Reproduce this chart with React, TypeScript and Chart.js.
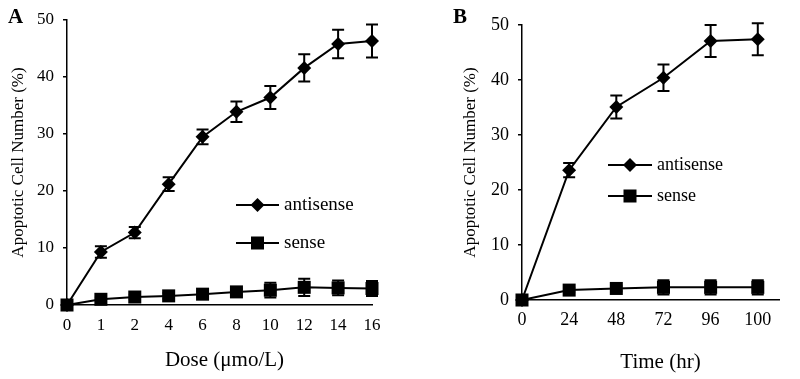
import React, { useEffect, useRef } from 'react';
import { Chart, registerables } from 'chart.js';

Chart.register(...registerables);

// ---------- Data ----------
const doseLabels = ['0', '1', '2', '4', '6', '8', '10', '12', '14', '16'];
const doseAntisense = [0, 9.3, 12.7, 21.2, 29.5, 33.9, 36.4, 41.6, 45.8, 46.3];
const doseAntisenseErr = [0, 1.0, 1.0, 1.2, 1.3, 1.8, 2.0, 2.4, 2.5, 2.9];
const doseSense = [0, 1.0, 1.4, 1.6, 1.9, 2.3, 2.6, 3.1, 3.0, 2.9];
const doseSenseErr = [0, 0.3, 0.4, 0.5, 0.5, 0.6, 1.3, 1.5, 1.3, 1.3];

const timeLabels = ['0', '24', '48', '72', '96', '100'];
const timeAntisense = [0, 23.6, 35.1, 40.4, 47.1, 47.4];
const timeAntisenseErr = [0, 1.3, 2.1, 2.4, 2.9, 2.9];
const timeSense = [0, 1.8, 2.1, 2.3, 2.3, 2.3];
const timeSenseErr = [0, 0.4, 0.5, 1.3, 1.3, 1.3];

const yTickValues = [0, 10, 20, 30, 40, 50];
const seriesNames = ['antisense', 'sense'];

const FONT = "'Liberation Serif', 'Times New Roman', serif";

// ---------- Plugins ----------
const errorBarPlugin = {
  id: 'errorBars',
  afterDatasetsDraw(chart: any) {
    const ctx = chart.ctx;
    const yScale = chart.scales.y;
    chart.data.datasets.forEach((ds: any, di: number) => {
      const errs = ds.errors;
      if (!errs) return;
      const meta = chart.getDatasetMeta(di);
      meta.data.forEach((pt: any, i: number) => {
        const raw = ds.data[i];
        const val = typeof raw === 'number' ? raw : raw.y;
        const e = errs[i];
        if (!e) return;
        const x = pt.x;
        const yTop = yScale.getPixelForValue(val + e);
        const yBot = yScale.getPixelForValue(val - e);
        ctx.save();
        ctx.strokeStyle = '#000';
        ctx.lineWidth = 2;
        ctx.beginPath();
        ctx.moveTo(x, yTop);
        ctx.lineTo(x, yBot);
        ctx.moveTo(x - 6, yTop);
        ctx.lineTo(x + 6, yTop);
        ctx.moveTo(x - 6, yBot);
        ctx.lineTo(x + 6, yBot);
        ctx.stroke();
        ctx.restore();
      });
    });
  },
};

function drawMarker(ctx: CanvasRenderingContext2D, style: string, x: number, y: number, r: number) {
  ctx.beginPath();
  if (style === 'rectRot') {
    ctx.moveTo(x - r, y);
    ctx.lineTo(x, y - r);
    ctx.lineTo(x + r, y);
    ctx.lineTo(x, y + r);
    ctx.closePath();
  } else {
    const s = Math.SQRT1_2 * r;
    ctx.rect(x - s, y - s, 2 * s, 2 * s);
  }
  ctx.fill();
}

const inlineLegendPlugin = {
  id: 'inlineLegend',
  afterDraw(chart: any, _args: any, opts: any) {
    if (!opts || !opts.ys) return;
    const ctx = chart.ctx;
    ctx.save();
    chart.data.datasets.forEach((ds: any, i: number) => {
      const y = opts.ys[i];
      ctx.strokeStyle = '#000';
      ctx.fillStyle = '#000';
      ctx.lineWidth = 2;
      ctx.beginPath();
      ctx.moveTo(opts.x0, y);
      ctx.lineTo(opts.x1, y);
      ctx.stroke();
      drawMarker(ctx, ds.pointStyle, (opts.x0 + opts.x1) / 2, y, ds.pointRadius);
      ctx.font = `${opts.fontSize}px ${FONT}`;
      ctx.textAlign = 'left';
      ctx.textBaseline = 'middle';
      ctx.fillText(ds.label, opts.textX, y);
    });
    ctx.restore();
  },
};

const panelLabelPlugin = {
  id: 'panelLabel',
  afterDraw(chart: any, _args: any, opts: any) {
    if (!opts || !opts.text) return;
    const ctx = chart.ctx;
    ctx.save();
    ctx.fillStyle = '#000';
    ctx.font = `bold ${opts.fontSize}px ${FONT}`;
    ctx.textAlign = 'left';
    ctx.textBaseline = 'alphabetic';
    ctx.fillText(opts.text, opts.x, opts.y);
    ctx.restore();
  },
};

// x-axis title drawn centred on the plot area with a small horizontal shift
const xTitlePlugin = {
  id: 'xTitle',
  afterDraw(chart: any, _args: any, opts: any) {
    if (!opts || !opts.text) return;
    const ctx = chart.ctx;
    const area = chart.chartArea;
    ctx.save();
    ctx.fillStyle = '#000';
    ctx.font = `${opts.fontSize}px ${FONT}`;
    ctx.textAlign = 'center';
    ctx.textBaseline = 'middle';
    ctx.fillText(opts.text, (area.left + area.right) / 2 + opts.dx, opts.y);
    ctx.restore();
  },
};

// ---------- Panel ----------
type PanelProps = {
  left: number;
  config: any;
};

function Panel({ left, config }: PanelProps) {
  const ref = useRef<HTMLCanvasElement | null>(null);
  useEffect(() => {
    if (!ref.current) return;
    const chart = new Chart(ref.current, config);
    return () => chart.destroy();
  }, []);
  return (
    <div style={{ position: 'absolute', left, top: 0, width: 400, height: 379 }}>
      <canvas ref={ref} width={400} height={379} style={{ width: 400, height: 379, display: 'block' }} />
    </div>
  );
}

function dataset(label: string, data: any[], errors: number[], style: string, radius: number) {
  return {
    label,
    data,
    errors,
    borderColor: '#000',
    backgroundColor: '#000',
    borderWidth: 2,
    pointStyle: style,
    pointRadius: radius,
    pointHoverRadius: radius,
    pointBackgroundColor: '#000',
    pointBorderColor: '#000',
    pointBorderWidth: 0,
    tension: 0,
    clip: false,
  };
}

function yAxis(width: number, tickSize: number) {
  return {
    min: 0,
    max: 50,
    afterBuildTicks: (s: any) => {
      s.ticks = yTickValues.map((v) => ({ value: v }));
    },
    afterFit: (s: any) => {
      s.width = width;
    },
    ticks: { font: { family: FONT, size: tickSize }, color: '#000', padding: 9 },
    grid: { display: true, drawOnChartArea: false, drawTicks: true, tickLength: 4, color: '#000', lineWidth: 1.5 },
    border: { display: true, color: '#000', width: 1.5 },
    title: {
      display: true,
      text: 'Apoptotic Cell Number (%)',
      color: '#000',
      font: { family: FONT, size: 17 },
      padding: { top: 4, bottom: 0 },
    },
  };
}

function xAxisCommon(height: number, tickSize: number) {
  return {
    afterFit: (s: any) => {
      s.height = height;
    },
    grid: { display: false, drawTicks: false },
    border: { display: true, color: '#000', width: 1.5 },
    title: { display: false },
    ticks: { font: { family: FONT, size: tickSize }, color: '#000', padding: 10, maxRotation: 0, autoSkip: false },
  };
}

const configA = {
  type: 'line',
  data: {
    labels: doseLabels,
    datasets: [
      dataset(seriesNames[0], doseAntisense, doseAntisenseErr, 'rectRot', 7),
      dataset(seriesNames[1], doseSense, doseSenseErr, 'rect', 9.2),
    ],
  },
  options: {
    responsive: false,
    animation: false,
    layout: { padding: { left: 4, top: 20, right: 28, bottom: 0 } },
    plugins: {
      legend: { display: false },
      tooltip: { enabled: false },
      inlineLegend: { x0: 236, x1: 279, textX: 284, ys: [205, 243], fontSize: 19 },
      panelLabel: { text: 'A', x: 8, y: 23, fontSize: 21 },
      xTitle: { text: 'Dose (μmo/L)', fontSize: 21, y: 360, dx: 5 },
    },
    scales: {
      x: {
        type: 'category',
        offset: false,
        ...xAxisCommon(74, 17),
      },
      y: yAxis(63, 17),
    },
  },
  plugins: [errorBarPlugin, inlineLegendPlugin, panelLabelPlugin, xTitlePlugin],
};

const xB = xAxisCommon(79, 18);

const configB = {
  type: 'line',
  data: {
    datasets: [
      dataset(seriesNames[0], timeAntisense.map((y, i) => ({ x: i, y })), timeAntisenseErr, 'rectRot', 7),
      dataset(seriesNames[1], timeSense.map((y, i) => ({ x: i, y })), timeSenseErr, 'rect', 9.2),
    ],
  },
  options: {
    responsive: false,
    animation: false,
    layout: { padding: { left: 56, top: 25, right: 21, bottom: 0 } },
    plugins: {
      legend: { display: false },
      tooltip: { enabled: false },
      inlineLegend: { x0: 208, x1: 252, textX: 257, ys: [165, 196], fontSize: 18 },
      panelLabel: { text: 'B', x: 53, y: 23, fontSize: 21 },
      xTitle: { text: 'Time (hr)', fontSize: 21, y: 362, dx: 10 },
    },
    scales: {
      x: {
        type: 'linear',
        min: 0,
        max: 5.45,
        afterBuildTicks: (s: any) => {
          s.ticks = timeLabels.map((_, i) => ({ value: i }));
        },
        ...xB,
        ticks: {
          ...xB.ticks,
          padding: 9,
          callback: (v: any) => timeLabels[v] ?? '',
        },
      },
      y: yAxis(66, 18),
    },
  },
  plugins: [errorBarPlugin, inlineLegendPlugin, panelLabelPlugin, xTitlePlugin],
};

export default function App() {
  useEffect(() => {
    document.body.style.margin = '0';
    document.body.style.background = '#fff';
  }, []);
  return (
    <div style={{ position: 'relative', width: 800, height: 379, background: '#fff', overflow: 'hidden' }}>
      <Panel left={0} config={configA} />
      <Panel left={400} config={configB} />
    </div>
  );
}
